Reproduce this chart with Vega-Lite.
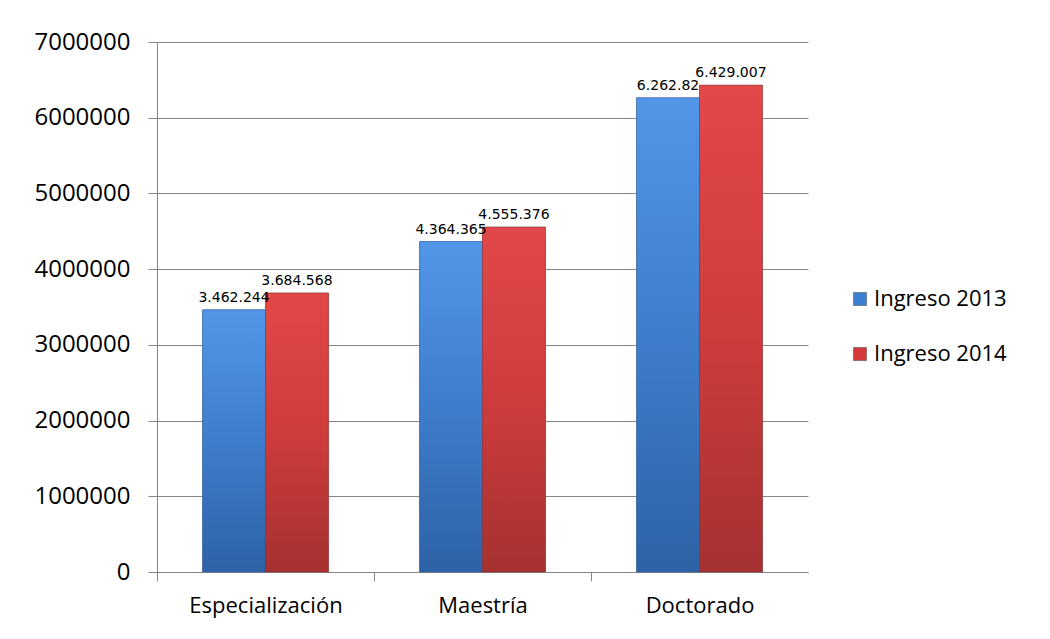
{
  "$schema": "https://vega.github.io/schema/vega-lite/v6.json",
  "width": 651,
  "height": 530,
  "autosize": "none",
  "padding": {"left": 157, "top": 42, "right": 242, "bottom": 67},
  "background": "white",
  "data": {
    "values": [
      {"Nivel": "Especialización", "Serie": "Ingreso 2013", "Valor": 3462244, "Etiqueta": "3.462.244"},
      {"Nivel": "Especialización", "Serie": "Ingreso 2014", "Valor": 3684568, "Etiqueta": "3.684.568"},
      {"Nivel": "Maestría", "Serie": "Ingreso 2013", "Valor": 4364365, "Etiqueta": "4.364.365"},
      {"Nivel": "Maestría", "Serie": "Ingreso 2014", "Valor": 4555376, "Etiqueta": "4.555.376"},
      {"Nivel": "Doctorado", "Serie": "Ingreso 2013", "Valor": 6262820, "Etiqueta": "6.262.82"},
      {"Nivel": "Doctorado", "Serie": "Ingreso 2014", "Valor": 6429007, "Etiqueta": "6.429.007"}
    ]
  },
  "encoding": {
    "x": {
      "field": "Nivel",
      "type": "nominal",
      "sort": ["Especialización", "Maestría", "Doctorado"],
      "scale": {"paddingInner": 0.42, "paddingOuter": 0.21},
      "axis": {
        "title": null,
        "labelAngle": 0,
        "labelFont": "Open Sans",
        "labelFontSize": 22,
        "labelColor": "#000000",
        "labelPadding": 14,
        "tickOffset": -108.5,
        "labelOffset": 108.5,
        "tickSize": 9,
        "tickColor": "#868686",
        "domainColor": "#868686",
        "grid": false
      }
    },
    "xOffset": {"field": "Serie", "type": "nominal", "sort": ["Ingreso 2013", "Ingreso 2014"]},
    "y": {
      "field": "Valor",
      "type": "quantitative",
      "scale": {"domain": [0, 7000000], "nice": false},
      "axis": {
        "title": null,
        "values": [0, 1000000, 2000000, 3000000, 4000000, 5000000, 6000000, 7000000],
        "format": "d",
        "labelFont": "Open Sans",
        "labelFontSize": 24,
        "labelColor": "#000000",
        "labelPadding": 18,
        "tickSize": 9,
        "tickColor": "#868686",
        "domainColor": "#868686",
        "gridColor": "#868686",
        "gridWidth": 1
      }
    }
  },
  "layer": [
    {
      "mark": {"type": "bar", "stroke": "#7a7a7a", "strokeWidth": 0.5},
      "encoding": {
        "color": {
          "field": "Serie",
          "type": "nominal",
          "scale": {"domain": ["Ingreso 2013", "Ingreso 2014"], "range": ["#3D7FD1", "#D23B3B"]},
          "legend": {
            "title": null,
            "orient": "none",
            "legendX": 692,
            "legendY": 246,
            "symbolType": "square",
            "symbolSize": 170,
            "symbolStrokeColor": "#444444",
            "symbolStrokeWidth": 0.5,
            "labelFont": "Open Sans",
            "labelFontSize": 22,
            "labelColor": "#000000",
            "rowPadding": 33,
            "labelOffset": 3
          }
        }
      }
    },
    {
      "transform": [{"filter": "datum.Serie === 'Ingreso 2013'"}],
      "mark": {
        "type": "bar",
        "stroke": "#2f5f9e",
        "strokeWidth": 0.5,
        "fill": {"gradient": "linear", "x1": 0, "y1": 0, "x2": 0, "y2": 1,
          "stops": [{"offset": 0, "color": "#5296E8"}, {"offset": 0.5, "color": "#3E7DCC"}, {"offset": 1, "color": "#2E62A6"}]}
      }
    },
    {
      "transform": [{"filter": "datum.Serie === 'Ingreso 2014'"}],
      "mark": {
        "type": "bar",
        "stroke": "#8e2a2a",
        "strokeWidth": 0.5,
        "fill": {"gradient": "linear", "x1": 0, "y1": 0, "x2": 0, "y2": 1,
          "stops": [{"offset": 0, "color": "#E24848"}, {"offset": 0.5, "color": "#CF3C3C"}, {"offset": 1, "color": "#A53131"}]}
      }
    },
    {
      "mark": {"type": "text", "baseline": "bottom", "dy": -5, "font": "DejaVu Sans", "fontSize": 14, "color": "#000000"},
      "encoding": {"text": {"field": "Etiqueta"}}
    }
  ],
  "config": {"view": {"stroke": null}}
}
